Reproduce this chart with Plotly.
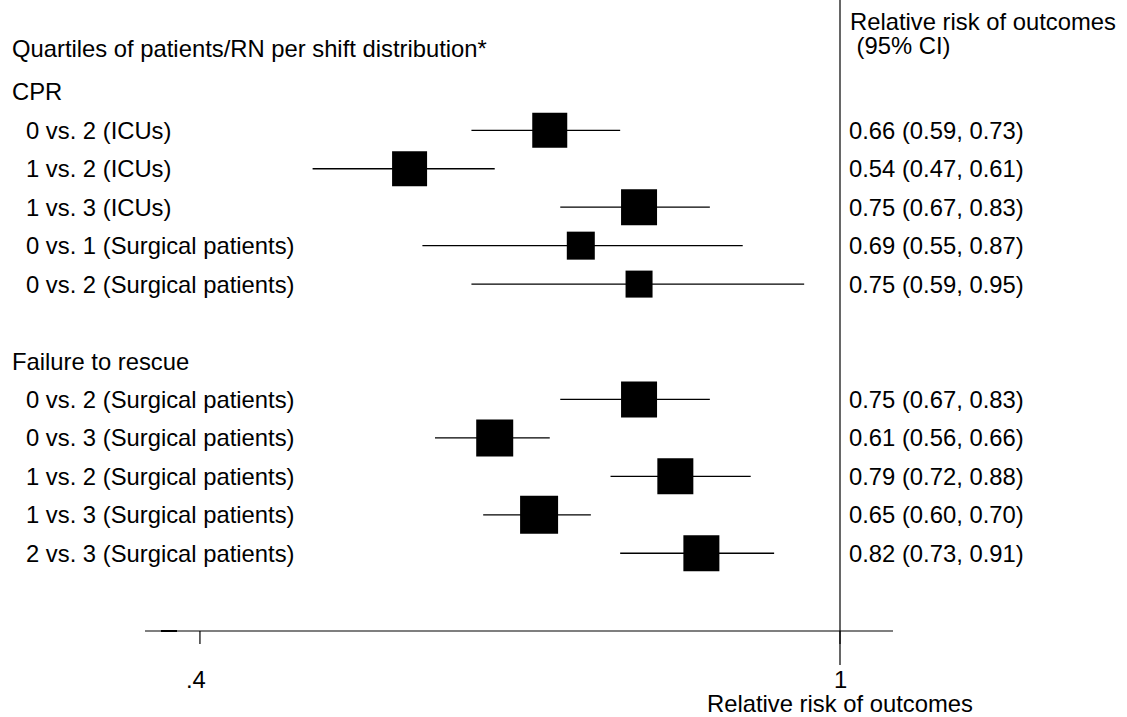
import math
import plotly.graph_objects as go

# ---- data -------------------------------------------------------------
cpr_labels = ["0 vs. 2 (ICUs)", "1 vs. 2 (ICUs)", "1 vs. 3 (ICUs)",
              "0 vs. 1 (Surgical patients)", "0 vs. 2 (Surgical patients)"]
cpr_rr = [0.66, 0.54, 0.75, 0.69, 0.75]
cpr_lo = [0.59, 0.47, 0.67, 0.55, 0.59]
cpr_hi = [0.73, 0.61, 0.83, 0.87, 0.95]

ftr_labels = ["0 vs. 2 (Surgical patients)", "0 vs. 3 (Surgical patients)",
              "1 vs. 2 (Surgical patients)", "1 vs. 3 (Surgical patients)",
              "2 vs. 3 (Surgical patients)"]
ftr_rr = [0.75, 0.61, 0.79, 0.65, 0.82]
ftr_lo = [0.67, 0.56, 0.72, 0.60, 0.73]
ftr_hi = [0.83, 0.66, 0.88, 0.70, 0.91]

group_names = ["CPR", "Failure to rescue"]
x_ticks = [0.4, 1]
x_tick_text = [".4", "1"]
null_value = 1

# ---- styling ----------------------------------------------------------
W, H = 1127, 717
FONT = "Liberation Sans, Arial, Helvetica, sans-serif"
FS = 23.8
cpr_box = [35, 35, 36, 28, 27]
ftr_box = [36, 37, 36, 38, 36]

# row layout (row units, top to bottom)
ROW_PX, ROW0_PX = 38.45, 130.3
def px_to_row(py):
    return (py - ROW0_PX) / ROW_PX

cpr_pos = [0, 1, 2, 3, 4]
ftr_pos = [7, 8, 9, 10, 11]
header_pos = [-1, 6]

# log x-axis spanning the full page width
PX_PER_DEC = 1608.4
X_ONE_PX = 840
xr = [(0 - X_ONE_PX) / PX_PER_DEC, (W - X_ONE_PX) / PX_PER_DEC]
yr = [px_to_row(H), px_to_row(0)]

labels = cpr_labels + ftr_labels
rr = cpr_rr + ftr_rr
lo = cpr_lo + ftr_lo
hi = cpr_hi + ftr_hi
pos = cpr_pos + ftr_pos
box = cpr_box + ftr_box

fig = go.Figure()

# confidence-interval whiskers
wx, wy = [], []
for l, h, p in zip(lo, hi, pos):
    wx += [l, h, None]
    wy += [p, p, None]
fig.add_trace(go.Scatter(x=wx, y=wy, mode="lines",
                         line=dict(color="black", width=1.3),
                         hoverinfo="skip", showlegend=False))

# point estimates as weighted squares
fig.add_trace(go.Scatter(x=rr, y=pos, mode="markers",
                         marker=dict(symbol="square", size=box, color="black",
                                     opacity=1, line=dict(width=0)),
                         showlegend=False))

# reference line at RR = 1 (runs below the axis as its tick)
fig.add_trace(go.Scatter(x=[null_value, null_value],
                         y=[px_to_row(0), px_to_row(665)], mode="lines",
                         line=dict(color="black", width=1.2),
                         hoverinfo="skip", showlegend=False))

# tick marks
tx, ty = [], []
for t in x_ticks:
    tx += [t, t, None]
    ty += [px_to_row(631), px_to_row(644), None]
fig.add_trace(go.Scatter(x=tx, y=ty, mode="lines",
                         line=dict(color="black", width=1.2),
                         hoverinfo="skip", showlegend=False))

ann = []
def text(x, y, s, xref="paper", xanchor="left", xshift=0):
    ann.append(dict(x=x, y=y, xref=xref, yref="y", text=s, showarrow=False,
                    xanchor=xanchor, yanchor="middle", xshift=xshift,
                    font=dict(family=FONT, size=FS, color="black")))

# left column
text(10 / W, px_to_row(48), "Quartiles of patients/RN per shift distribution*")
for g, p in zip(group_names, header_pos):
    text(10 / W, p, g)
for s, p in zip(labels, pos):
    text(24 / W, p, s)

# right column
text(848 / W, px_to_row(21), "Relative risk of outcomes")
text(848 / W, px_to_row(45), " (95% CI)")
for r, l, h, p in zip(rr, lo, hi, pos):
    text(847 / W, p, f"{r:.2f} ({l:.2f}, {h:.2f})")

# x tick labels and axis title
for t, s in zip(x_ticks, x_tick_text):
    text(math.log10(t), px_to_row(679), s, xref="x", xanchor="center",
         xshift=-4 if s.startswith(".") else 0)
text(math.log10(null_value), px_to_row(703), "Relative risk of outcomes",
     xref="x", xanchor="center")

shapes = [
    # x-axis baseline
    dict(type="line", xref="paper", yref="paper",
         x0=145 / W, x1=893 / W, y0=1 - 631 / H, y1=1 - 631 / H,
         line=dict(color="black", width=1.2)),
    dict(type="line", xref="paper", yref="paper",
         x0=161 / W, x1=177 / W, y0=1 - 631 / H, y1=1 - 631 / H,
         line=dict(color="black", width=2)),
]

fig.update_layout(
    width=W, height=H,
    margin=dict(l=0, r=0, t=0, b=0),
    paper_bgcolor="white", plot_bgcolor="white",
    xaxis=dict(type="log", range=xr, visible=False, fixedrange=True),
    yaxis=dict(range=yr, visible=False, fixedrange=True),
    annotations=ann, shapes=shapes,
    showlegend=False,
)

fig.write_html("out.html")
